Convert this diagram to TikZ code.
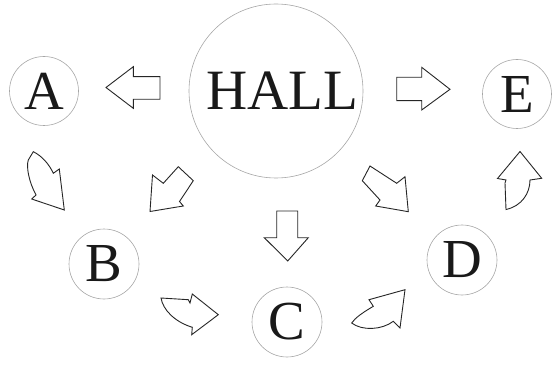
\documentclass[tikz,border=0pt]{standalone}
\usepackage{fontspec}
\setmainfont{Liberation Serif}
\begin{document}
\begin{tikzpicture}[x=1pt,y=-1pt,
  room/.style={circle,draw=black!35,line width=0.6pt,inner sep=0pt,text=black!90,font=\fontsize{55}{60}\selectfont},
  blockarrow/.style={draw=black!85,line width=0.9pt,line join=miter,fill=white}]
\useasboundingbox (0,0) rectangle (554,366);
\node[room,minimum size=174pt,font=\fontsize{57}{62}\selectfont] (hall) at (276,91) {\kern12pt HALL};
\node[room,minimum size=69pt] (a) at (44,91) {A};
\node[room,minimum size=69pt] (e) at (517,94) {E};
\node[room,minimum size=70pt] (b) at (104,264) {B};
\node[room,minimum size=70pt] (c) at (287,322) {C};
\node[room,minimum size=70pt] (d) at (462,260) {D};
% hall -> a
\draw[blockarrow] (106,87.5) -- (133.3,66.7) -- (133.3,76.7) -- (160,76.7) -- (160,99.3) -- (133.3,99.3) -- (133.3,108.3) -- cycle;
% hall -> e
\draw[blockarrow] (396.7,77.3) -- (421.7,77.3) -- (421.7,67.3) -- (450,89.3) -- (421.7,110) -- (421.7,100.7) -- (396.7,100.7) -- cycle;
% hall -> c
\draw[blockarrow] (276.7,211) -- (297.7,211) -- (297.7,237.7) -- (308.3,237.7) -- (287.7,261) -- (264.3,237.7) -- (276.7,237.7) -- cycle;
% hall -> b
\draw[blockarrow] (150,211.5) -- (152.5,175) -- (163.3,183.3) -- (178.3,166.7) -- (193.3,180.7) -- (179.5,201.5) -- (183.3,206) -- cycle;
% hall -> d
\draw[blockarrow] (370,166) -- (396.7,183.3) -- (405,176.7) -- (408.3,211.7) -- (375.7,206) -- (380,200) -- (362.3,180.7) -- cycle;
% a -> b
\draw[blockarrow] (33.3,151.7) .. controls (42,156) and (49,164) .. (53.3,173.3) -- (59.3,169) -- (64.3,210) -- (31.7,199) -- (36,195) .. controls (29,182) and (26,167) .. (28.3,160) -- cycle;
% b -> c
\draw[blockarrow] (161,298) -- (188.3,299.7) -- (190,303) -- (192.3,294) -- (218.3,314.7) -- (191.7,334.7) -- (192.3,327.3) .. controls (175,322) and (163,310) .. (161,298) -- cycle;
% c -> d
\draw[blockarrow] (405,289.7) -- (369,299.7) -- (373.3,306.3) .. controls (362,313) and (355,318) .. (351.7,323) .. controls (362,331) and (382,330) .. (393.3,321.3) -- (400,328) -- cycle;
% d -> e
\draw[blockarrow] (520,151.5) -- (541.7,178.3) -- (530,180) .. controls (530,193) and (522,206) .. (506,209.5) -- (505,183) -- (506,180) -- (497.5,178.5) -- cycle;
\end{tikzpicture}
\end{document}
